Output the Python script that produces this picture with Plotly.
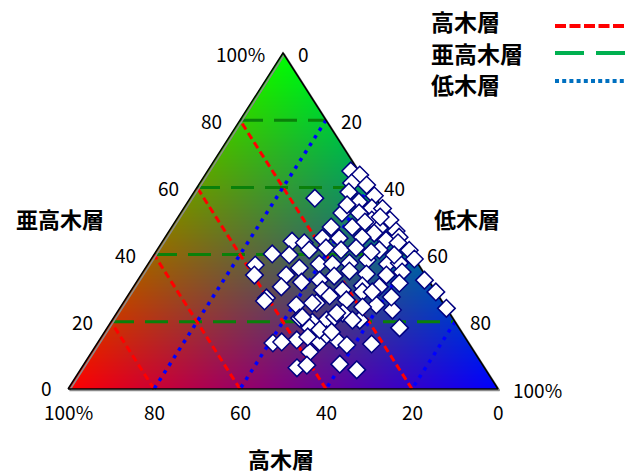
import base64
import struct
import zlib

import numpy as np
import plotly.graph_objects as go

# ---- composition of each plot (%): 高木層 / 亜高木層 / 低木層 ----
high = [1.8, 0.3, 3.4, 0.2, 5.4, 14.2, 0.0, 4.5, 2.4, 0.0, 10.1, 6.1, 4.2, 0.0, 14.7, 9.8,
        3.7, 0.2, 5.6, 0.4, 25.9, 23.3, 18.4, 14.5, 9.0, 3.9, 1.5, 32.4, 28.6, 23.2, 19.0,
        15.8, 12.0, 6.9, 0.0, 0.1, 38.0, 39.7, 32.3, 28.2, 23.0, 19.9, 15.8, 11.2, 7.1, 4.2,
        0.9, 0.0, 0.0, 40.3, 35.2, 29.8, 25.3, 21.3, 17.0, 13.5, 9.0, 4.9, 26.1, 21.4, 16.2,
        12.4, 7.2, 41.2, 34.4, 35.6, 29.4, 25.3, 22.0, 17.1, 12.8, 15.8, 21.9, 24.8, 29.6,
        33.2, 30.2, 34.5, 38.3, 39.5, 45.5, 43.6, 40.9, 33.1, 30.0, 22.7, 13.8, 11.1, 14.8,
        34.8, 27.3, 23.6, 31.8, 28.6, 34.7, 32.7, 30.2, 36.5, 43.3, 30.4, 26.2, 19.3, 4.2,
        9.1, 6.1, 7.7, 1.8]
sub = [64.9, 63.7, 61.3, 60.7, 58.6, 56.8, 57.5, 55.7, 53.9, 53.7, 52.4, 52.4, 50.3, 50.3,
       48.2, 48.2, 47.9, 47.0, 46.4, 45.2, 44.0, 43.5, 44.9, 44.9, 45.2, 44.3, 43.5, 40.2,
       39.9, 41.4, 42.0, 41.4, 42.0, 41.4, 41.3, 38.7, 36.9, 33.9, 33.9, 36.0, 37.2, 37.2,
       37.5, 38.4, 37.2, 37.5, 32.4, 28.9, 24.0, 27.1, 30.4, 31.8, 32.4, 33.6, 35.1, 34.2,
       33.9, 34.8, 29.5, 29.5, 30.7, 30.4, 31.5, 26.2, 25.0, 21.1, 25.6, 27.7, 26.5, 28.9,
       23.5, 25.0, 20.5, 22.6, 20.5, 19.9, 14.6, 14.0, 11.0, 14.6, 13.7, 6.3, 7.1, 7.4, 5.7,
       13.4, 18.2, 27.4, 28.9, 21.4, 21.4, 20.5, 16.1, 13.1, 18.2, 17.6, 17.0, 15.5, 14.0,
       25.6, 22.6, 24.4, 39.9, 40.8, 49.7, 54.8, 51.2]
low = [33.3, 36.0, 35.3, 39.1, 36.0, 29.0, 42.5, 39.8, 43.7, 46.3, 37.5, 41.5, 45.5, 49.7,
       37.1, 42.0, 48.4, 52.8, 48.0, 54.4, 30.1, 33.2, 36.7, 40.6, 45.8, 51.8, 55.0, 27.4,
       31.5, 35.4, 39.0, 42.8, 46.0, 51.7, 58.7, 61.2, 25.1, 26.4, 33.8, 35.8, 39.8, 42.9,
       46.7, 50.4, 55.7, 58.3, 66.7, 71.1, 76.0, 32.6, 34.4, 38.4, 42.3, 45.1, 47.9, 52.3,
       57.1, 60.3, 44.4, 49.1, 53.1, 57.2, 61.3, 32.6, 40.6, 43.3, 45.0, 47.0, 51.5, 54.0,
       63.7, 59.2, 57.6, 52.6, 49.9, 46.9, 55.2, 51.5, 50.7, 45.9, 40.8, 50.1, 52.0, 59.5,
       64.3, 63.9, 68.0, 61.5, 56.3, 43.8, 51.3, 55.9, 52.1, 58.3, 47.1, 49.7, 52.8, 48.0,
       42.7, 44.0, 51.2, 56.3, 55.9, 50.1, 44.2, 37.5, 47.0]

axis_names = ["高木層", "亜高木層", "低木層"]
grid_values = [20, 40, 60, 80]
tick_values = [0, 20, 40, 60, 80, 100]
tick_text = ["0", "20", "40", "60", "80", "100%"]

# Triangle shape: base = 1 unit, height ratio of the drawn triangle
H_RATIO = 336 / 430
BASE_PX = 430
LEFT_PX, BASE_Y_PX = 68, 389
FIG_W, FIG_H = 625, 474

NUM_FONT = dict(family="Noto Sans CJK JP", size=19, color="black")
TITLE_FONT = dict(family="Noto Sans CJK JP", size=22, color="black", weight="bold")
LEGEND_FONT = dict(family="Noto Sans CJK JP", size=23, color="black", weight="bold")


def to_xy(a, b, c):
    """Ternary (高木, 亜高木, 低木) -> cartesian; 高木 at bottom-left, 低木 at bottom-right."""
    a, b, c = (np.asarray(v, dtype=float) for v in (a, b, c))
    t = a + b + c
    b, c = b / t, c / t
    return 0.5 * b + c, H_RATIO * b


def segments(pairs):
    xs, ys = [], []
    for p, q in pairs:
        x, y = to_xy(*zip(p, q))
        xs += list(x) + [None]
        ys += list(y) + [None]
    return xs, ys


# ---- RGB gradient fill: red = 高木, green = 亜高木, blue = 低木 ----
def png_bytes(arr):
    h, w, _ = arr.shape
    raw = b"".join(b"\x00" + arr[i].tobytes() for i in range(h))

    def chunk(tag, data):
        return (struct.pack(">I", len(data)) + tag + data
                + struct.pack(">I", zlib.crc32(tag + data) & 0xFFFFFFFF))

    return (b"\x89PNG\r\n\x1a\n"
            + chunk(b"IHDR", struct.pack(">IIBBBBB", w, h, 8, 6, 0, 0, 0))
            + chunk(b"IDAT", zlib.compress(raw, 9))
            + chunk(b"IEND", b""))


img_w, img_h = BASE_PX, int(round(BASE_PX * H_RATIO))
gx = (np.arange(img_w) + 0.5) / img_w
gy = H_RATIO * (1 - (np.arange(img_h) + 0.5) / img_h)
X, Y = np.meshgrid(gx, gy)
fb = Y / H_RATIO
fc = X - 0.5 * fb
fa = 1 - fb - fc
edge = np.minimum(np.minimum(fa, fb), fc) * 300
alpha = np.clip(edge + 0.5, 0, 1)
rgba = np.stack([np.clip(fa, 0, 1) * 255, np.clip(fb, 0, 1) * 255,
                 np.clip(fc, 0, 1) * 255, alpha * 255], axis=-1).round().astype(np.uint8)
gradient_src = "data:image/png;base64," + base64.b64encode(png_bytes(rgba)).decode()

fig = go.Figure()

# grid: constant 高木 (red), constant 亜高木 (green), constant 低木 (blue)
rx, ry = segments([((v, 0, 100 - v), (v, 100 - v, 0)) for v in grid_values])
gx_, gy_ = segments([((100 - v, v, 0), (0, v, 100 - v)) for v in grid_values])
bx, by = segments([((0, 100 - v, v), (100 - v, 0, v)) for v in grid_values])
fig.add_trace(go.Scatter(x=gx_, y=gy_, mode="lines", hoverinfo="skip",
                         line=dict(color="#0a800a", width=3, dash="23px,11px")))
fig.add_trace(go.Scatter(x=rx, y=ry, mode="lines", hoverinfo="skip",
                         line=dict(color="#ff0000", width=3, dash="7px,4px")))
fig.add_trace(go.Scatter(x=bx, y=by, mode="lines", hoverinfo="skip",
                         line=dict(color="#0000ff", width=3.5, dash="3.5px,5.5px")))

# triangle outline with a faint drop shadow
ox, oy = to_xy([100, 0, 0, 100], [0, 0, 100, 0], [0, 100, 0, 0])
sh = 1.5 / BASE_PX
fig.add_trace(go.Scatter(x=list(ox + sh), y=list(oy - sh), mode="lines", hoverinfo="skip",
                         line=dict(color="#8a8a8a", width=1.5)))
fig.add_trace(go.Scatter(x=list(ox), y=list(oy), mode="lines", hoverinfo="skip",
                         line=dict(color="black", width=1.5)))

# plots
px, py = to_xy(high, sub, low)
fig.add_trace(go.Scatter(
    x=px, y=py, mode="markers",
    marker=dict(symbol="diamond", size=13.5, color="white",
                line=dict(color="#000080", width=1.5)),
    customdata=np.stack([high, sub, low], axis=-1),
    hovertemplate="高木層 %{customdata[0]}%<br>亜高木層 %{customdata[1]}%"
                  "<br>低木層 %{customdata[2]}%<extra></extra>"))

annotations = []
for v, t in zip(tick_values, tick_text):
    # 亜高木層 along the left edge
    x, y = to_xy(100 - v, v, 0)
    annotations.append(dict(x=float(x), y=float(y), text=t, showarrow=False, xanchor="right",
                            yanchor="middle", xshift=-16 if v else -14, yshift=0 if v else 2,
                            font=NUM_FONT))
    # 低木層 along the right edge
    x, y = to_xy(0, 100 - v, v)
    annotations.append(dict(x=float(x), y=float(y), text=t, showarrow=False, xanchor="left",
                            yanchor="middle", xshift=13, font=NUM_FONT))
    # 高木層 along the base
    x, y = to_xy(v, 0, 100 - v)
    annotations.append(dict(x=float(x), y=float(y), text=t, showarrow=False, xanchor="center",
                            yanchor="middle", yshift=-22, font=NUM_FONT))


def paper(pxl, pyl):
    return pxl / FIG_W, 1 - pyl / FIG_H


for name, (tx, ty) in zip(axis_names, [(281, 458), (60, 218), (467, 218)]):
    x, y = paper(tx, ty)
    annotations.append(dict(x=x, y=y, xref="paper", yref="paper", text=name, showarrow=False,
                            xanchor="center", yanchor="middle", font=TITLE_FONT))

# legend
legend_items = [("高木層", "#ff0000", "11px,3.5px", 21, 26),
                ("亜高木層", "#00b050", "29px,12px", 53, 53),
                ("低木層", "#0070c0", "4px,3.2px", 84, 81)]
shapes = []
for name, color, dash, ty, ly in legend_items:
    x, y = paper(429, ty)
    annotations.append(dict(x=x, y=y, xref="paper", yref="paper", text=name, showarrow=False,
                            xanchor="left", yanchor="middle", font=LEGEND_FONT))
    x0, y0 = paper(555, ly)
    x1, _ = paper(640, ly)
    shapes.append(dict(type="line", xref="paper", yref="paper", x0=x0, x1=x1, y0=y0, y1=y0,
                       line=dict(color=color, width=4, dash=dash)))

fig.update_layout(
    width=FIG_W, height=FIG_H, margin=dict(l=0, r=0, t=0, b=0),
    paper_bgcolor="white", plot_bgcolor="white", showlegend=False,
    xaxis=dict(visible=False, fixedrange=True,
               range=[-LEFT_PX / BASE_PX, (FIG_W - LEFT_PX) / BASE_PX]),
    yaxis=dict(visible=False, fixedrange=True,
               range=[-(FIG_H - BASE_Y_PX) / BASE_PX, BASE_Y_PX / BASE_PX]),
    images=[dict(source=gradient_src, xref="x", yref="y", x=0, y=H_RATIO, sizex=1,
                 sizey=H_RATIO, xanchor="left", yanchor="top", sizing="stretch",
                 layer="below")],
    annotations=annotations, shapes=shapes,
)

fig.write_html("out.html")
